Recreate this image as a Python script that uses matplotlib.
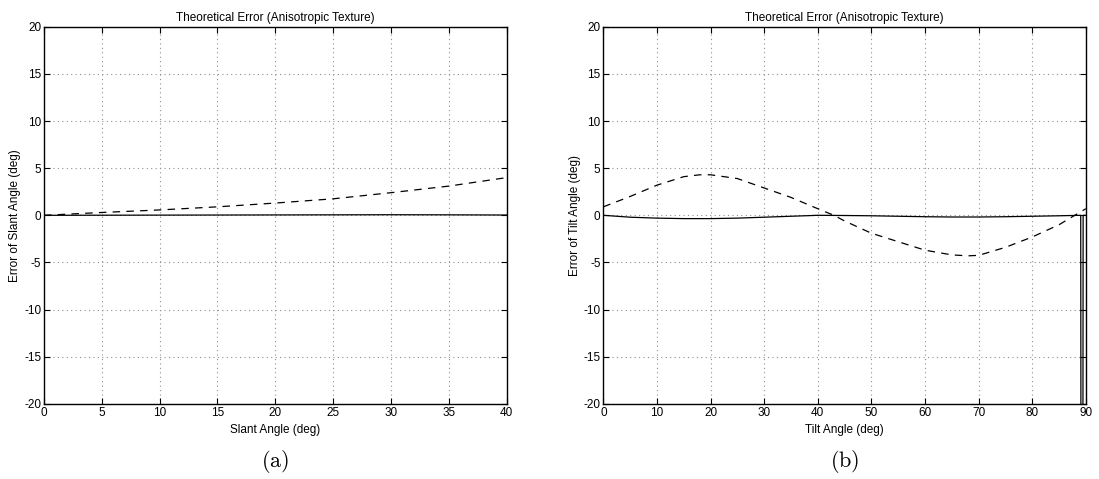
import numpy as np
import matplotlib
matplotlib.use("Agg")
import matplotlib.pyplot as plt

plt.rcParams['font.family'] = ['Liberation Sans', 'DejaVu Sans']
plt.rcParams['mathtext.fontset'] = 'cm'
plt.rcParams['axes.unicode_minus'] = False

# (a) slant error
slant_x = [0, 5, 10, 15, 20, 25, 30, 35, 40]
slant_dashed = [0.0, 0.3, 0.57, 0.9, 1.3, 1.75, 2.4, 3.1, 4.0]
slant_solid = [0.0, 0.01, 0.02, 0.03, 0.04, 0.05, 0.06, 0.05, 0.03]

# (b) tilt error
tilt_x = [0, 5, 10, 15, 18, 20, 25, 30, 35, 40, 43, 45, 50, 55, 60, 65, 68, 70, 75, 80, 85, 90]
tilt_dashed = [0.9, 2.0, 3.2, 4.1, 4.3, 4.3, 3.9, 2.9, 1.9, 0.7, 0.0, -0.6, -1.9, -2.8, -3.7, -4.2,
               -4.3, -4.25, -3.4, -2.3, -1.0, 0.7]
tilt_solid_x = [0, 5, 10, 15, 20, 25, 30, 35, 40, 45, 50, 55, 60, 65, 70, 75, 80, 85, 89.05, 89.1, 89.45, 89.5, 90]
tilt_solid = [0.0, -0.2, -0.3, -0.35, -0.35, -0.3, -0.2, -0.1, 0.0, -0.02, -0.05, -0.1, -0.15, -0.18, -0.18,
              -0.15, -0.1, -0.05, 0.0, -30, -30, 0.0, 0.0]

titles = ["Theoretical Error (Anisotropic Texture)", "Theoretical Error (Anisotropic Texture)"]
xlabels = ["Slant Angle (deg)", "Tilt Angle (deg)"]
ylabels = ["Error of Slant Angle (deg)", "Error of Tilt Angle (deg)"]
captions = [r"$\mathrm{(a)}$", r"$\mathrm{(b)}$"]

fig = plt.figure(figsize=(10.99, 4.79), dpi=100)
axa = fig.add_axes([0.040, 0.157, 0.421, 0.787])
axb = fig.add_axes([0.549, 0.157, 0.439, 0.787])

axa.plot(slant_x, slant_solid, color='black', lw=0.9)
axa.plot(slant_x, slant_dashed, color='black', lw=0.9, ls=(0, (6, 5)))
axa.set_xlim(0, 40)
axa.set_xticks(np.arange(0, 41, 5))

axb.plot(tilt_solid_x, tilt_solid, color='black', lw=0.9)
axb.plot(tilt_x, tilt_dashed, color='black', lw=0.9, ls=(0, (6, 5)))
axb.set_xlim(0, 90)
axb.set_xticks(np.arange(0, 91, 10))

for i, ax in enumerate([axa, axb]):
    ax.set_ylim(-20, 20)
    ax.set_yticks(np.arange(-20, 21, 5))
    ax.grid(True, ls=(0, (1, 3)), color='#909090', lw=0.8)
    ax.tick_params(direction='in', top=True, right=True, labelsize=8.5, length=4, pad=2)
    ax.set_title(titles[i], fontsize=8.5, pad=4)
    ax.set_xlabel(xlabels[i], fontsize=8.5, labelpad=4)
    ax.set_ylabel(ylabels[i], fontsize=8.5, labelpad=2)
    for s in ax.spines.values():
        s.set_linewidth(1.0)

fig.text(0.250, 0.036, captions[0], ha='center', va='center', fontsize=16)
fig.text(0.769, 0.036, captions[1], ha='center', va='center', fontsize=16)

fig.savefig("out.png", dpi=100)
